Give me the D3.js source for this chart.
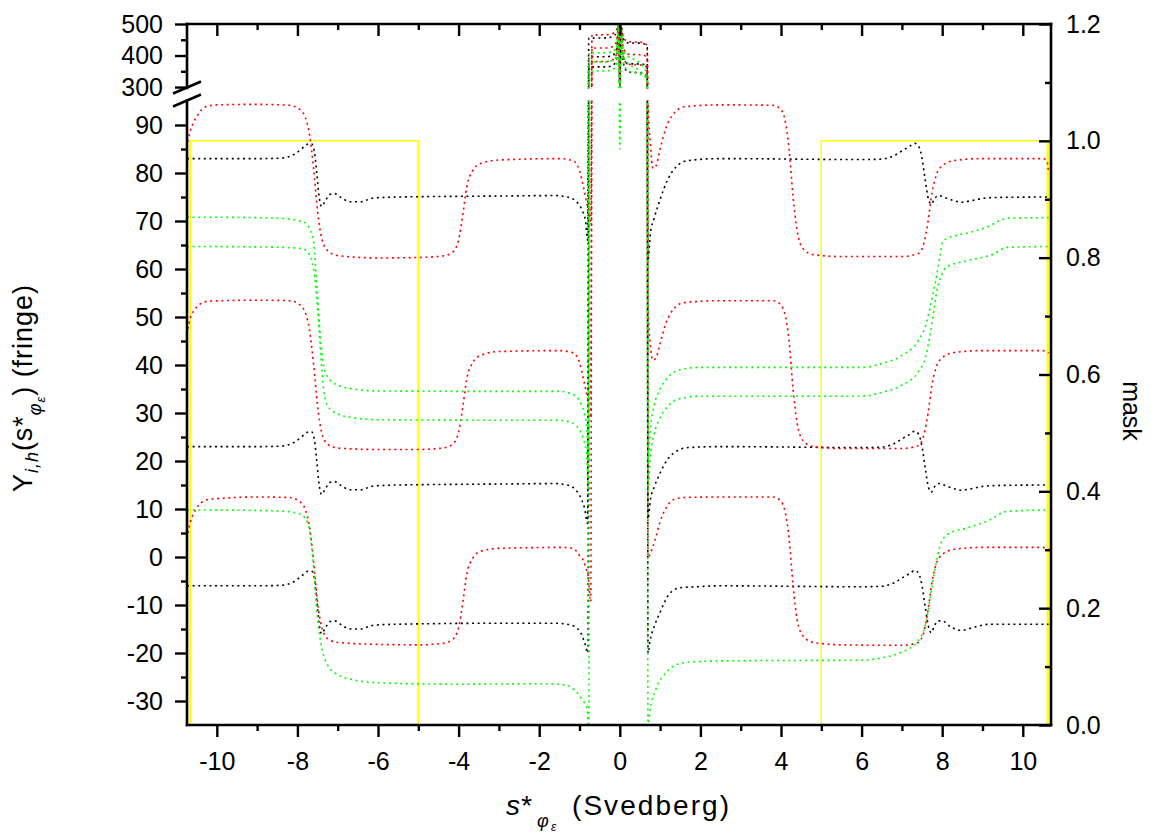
<!DOCTYPE html>
<html>
<head>
<meta charset="utf-8">
<script src="https://cdn.jsdelivr.net/npm/d3@7"></script>
<style>
  body { margin: 0; background: #fff; }
  svg { display: block; font-family: Arial, "Liberation Sans", sans-serif; }
</style>
</head>
<body>
<script>
// ---- data: [s*, Y] pairs ----
let red1 = [[-10.72, 86.5], [-10.65, 89], [-10.58, 90.5], [-10.48, 92], [-10.3, 93.7], [-10, 94.2], [-9, 94.3], [-8.2, 94.1], [-7.95, 93.3], [-7.8, 91.5], [-7.7, 88], [-7.6, 81], [-7.5, 72], [-7.4, 66.5], [-7.25, 63.8], [-7.0, 62.8], [-6, 62.3], [-5, 62.4], [-4.4, 62.7], [-4.15, 63.5], [-4.0, 66], [-3.9, 71], [-3.8, 77], [-3.65, 80.5], [-3.45, 82], [-3.0, 82.7], [-1.5, 83], [-1.15, 82.5], [-1.0, 80.5], [-0.9, 77], [-0.8, 73], [-0.72, 70], [-0.69, 465], [-0.35, 466], [-0.18, 470], [-0.08, 482], [-0.03, 500], [0, 320], [0.03, 498], [0.08, 460], [0.2, 444], [0.55, 442], [0.64, 437], [0.68, 428], [0.7, 96], [0.76, 86], [0.82, 81], [0.9, 81.5], [1.0, 85], [1.15, 89.5], [1.35, 92.5], [1.6, 93.8], [2.5, 94.2], [3.8, 94.1], [4.0, 93.2], [4.1, 91], [4.2, 85], [4.3, 75], [4.4, 68], [4.55, 64.2], [4.8, 63], [5.5, 62.6], [7.0, 62.6], [7.4, 63.2], [7.55, 65.5], [7.65, 70], [7.75, 76], [7.85, 79.5], [8.0, 81.5], [8.3, 82.6], [9.0, 83], [10.5, 83], [10.6, 82.5], [10.64, 80]];
let red2 = [[-10.72, 47.5], [-10.65, 50], [-10.55, 51.5], [-10.45, 52.5], [-10.2, 53.3], [-9, 53.5], [-8.2, 53.4], [-7.95, 52.6], [-7.8, 50.8], [-7.7, 47.3], [-7.6, 40.3], [-7.5, 31.5], [-7.4, 26], [-7.25, 23.5], [-7.0, 22.7], [-6, 22.4], [-5, 22.4], [-4.4, 22.7], [-4.15, 23.5], [-4.0, 26], [-3.9, 31], [-3.8, 37], [-3.65, 40.5], [-3.45, 42], [-3.0, 42.8], [-1.5, 43], [-1.15, 42.5], [-1.0, 40.5], [-0.9, 37], [-0.8, 33], [-0.72, 29], [-0.69, 424], [-0.35, 424], [-0.18, 428], [-0.08, 445], [-0.03, 495], [0, 310], [0.03, 490], [0.08, 430], [0.2, 404], [0.55, 402], [0.64, 398], [0.68, 390], [0.7, 52], [0.76, 44], [0.82, 41], [0.9, 41.5], [1.0, 44.5], [1.15, 48.8], [1.35, 51.8], [1.6, 53], [2.5, 53.4], [3.8, 53.4], [4.0, 52.5], [4.1, 50.5], [4.2, 45], [4.3, 35], [4.4, 28], [4.55, 24.2], [4.8, 23], [5.5, 22.6], [7.0, 22.6], [7.4, 23.2], [7.55, 25.5], [7.65, 30], [7.75, 36], [7.85, 39.5], [8.0, 41.5], [8.3, 42.6], [9.0, 43], [10.5, 43], [10.64, 42.5]];
let red3 = [[-10.72, 5], [-10.65, 7.5], [-10.55, 9.5], [-10.45, 10.8], [-10.2, 12], [-9, 12.5], [-8.2, 12.4], [-7.95, 11.6], [-7.8, 9.8], [-7.7, 6.3], [-7.6, -0.7], [-7.5, -9.5], [-7.4, -14.5], [-7.25, -17], [-7.0, -17.8], [-6, -18.2], [-5, -18.3], [-4.4, -18], [-4.15, -17.2], [-4.0, -14.7], [-3.9, -9.7], [-3.8, -3.7], [-3.65, -0.3], [-3.45, 1.2], [-3.0, 1.8], [-1.5, 2], [-1.16, 1.8], [-0.99, 0.2], [-0.89, -1], [-0.84, -2.4], [-0.79, -3.7], [-0.72, -9.3], [-0.69, 381], [-0.35, 381], [-0.18, 386], [-0.08, 405], [-0.03, 490], [0, 305], [0.03, 480], [0.08, 400], [0.2, 372], [0.55, 370], [0.64, 366], [0.68, 358], [0.7, 0], [0.81, 1.9], [0.91, 4.6], [0.99, 7.1], [1.12, 9.8], [1.32, 11.9], [1.6, 12.4], [2.5, 12.5], [3.8, 12.5], [4.0, 11.6], [4.1, 9.5], [4.2, 4], [4.3, -6], [4.4, -13], [4.55, -16.5], [4.8, -17.8], [5.5, -18.3], [7.0, -18.4], [7.4, -17.8], [7.55, -15.5], [7.65, -11], [7.75, -5], [7.85, -1.5], [8.0, 0.5], [8.3, 1.6], [9.0, 2], [10.5, 2], [10.64, 1.6]];

let black1 = [[-10.74, 83], [-9, 83], [-8.4, 83.1], [-8.1, 83.8], [-7.9, 85], [-7.75, 86], [-7.65, 86.1], [-7.58, 84.5], [-7.52, 80], [-7.46, 75], [-7.4, 73], [-7.32, 74], [-7.2, 75.5], [-7.08, 75.7], [-6.9, 74.8], [-6.7, 74], [-6.45, 74], [-6.1, 74.8], [-5.5, 75], [-3, 75.2], [-1.6, 75.3], [-1.3, 75], [-1.1, 74.2], [-0.95, 72.5], [-0.85, 70], [-0.8, 66], [-0.77, 455], [-0.35, 456], [-0.18, 460], [-0.08, 475], [-0.03, 500], [0, 315], [0.03, 495], [0.08, 455], [0.2, 440], [0.55, 439], [0.64, 434], [0.68, 425], [0.7, 62], [0.76, 67.5], [0.85, 70.5], [1.0, 74.5], [1.2, 78.8], [1.4, 81.3], [1.7, 82.6], [2.5, 83], [6.0, 82.8], [6.5, 82.9], [6.8, 83.6], [7.0, 84.6], [7.2, 85.6], [7.32, 86.2], [7.42, 85.5], [7.5, 83], [7.58, 78.5], [7.66, 74.5], [7.73, 73.5], [7.8, 74.5], [7.9, 75.3], [8.1, 74.8], [8.3, 74.2], [8.48, 73.9], [8.7, 74.2], [9.0, 74.7], [9.35, 74.9], [10.64, 75]];
let black2 = [[-10.74, 23], [-9, 23], [-8.4, 23.1], [-8.1, 23.8], [-7.9, 25], [-7.75, 26], [-7.65, 26.1], [-7.58, 24.5], [-7.52, 20], [-7.46, 15], [-7.4, 13], [-7.32, 14], [-7.2, 15.5], [-7.08, 15.7], [-6.9, 14.8], [-6.7, 14], [-6.45, 14], [-6.1, 14.8], [-5.5, 15], [-3, 15.2], [-1.6, 15.3], [-1.3, 15], [-1.1, 14], [-0.95, 12], [-0.87, 10], [-0.8, 7], [-0.77, 396], [-0.35, 396], [-0.18, 400], [-0.08, 420], [-0.03, 495], [0, 305], [0.03, 490], [0.08, 400], [0.2, 374], [0.55, 373], [0.64, 368], [0.68, 360], [0.7, 8], [0.76, 12], [0.85, 14.5], [1.0, 17.5], [1.2, 20.5], [1.4, 22], [1.7, 22.8], [2.5, 23], [6.0, 22.8], [6.5, 22.9], [6.8, 23.6], [7.0, 24.6], [7.2, 25.6], [7.32, 26.2], [7.42, 25.5], [7.5, 23], [7.58, 18.5], [7.66, 14.5], [7.73, 13.5], [7.8, 14.5], [7.9, 15.3], [8.1, 14.8], [8.3, 14.2], [8.48, 13.9], [8.7, 14.2], [9.0, 14.7], [9.35, 14.9], [10.64, 15]];
let black3 = [[-10.74, -6], [-9, -6], [-8.4, -5.9], [-8.1, -5.2], [-7.9, -4], [-7.75, -3], [-7.65, -2.9], [-7.58, -4.5], [-7.52, -9], [-7.46, -14], [-7.4, -16], [-7.32, -15], [-7.2, -13.5], [-7.08, -13.3], [-6.9, -14.2], [-6.7, -15], [-6.45, -15], [-6.1, -14.2], [-5.5, -14], [-3, -13.8], [-1.6, -13.8], [-1.24, -14.1], [-0.99, -15.5], [-0.87, -17.9], [-0.79, -20], [-0.76, 364], [-0.35, 364], [-0.18, 368], [-0.08, 390], [-0.03, 485], [0, 300], [0.03, 480], [0.08, 380], [0.2, 348], [0.55, 345], [0.64, 340], [0.68, 332], [0.7, -20], [0.74, -17.9], [0.87, -14.1], [0.99, -11.7], [1.22, -7.8], [1.49, -6.4], [1.9, -6.2], [2.5, -6], [6.0, -6.2], [6.5, -6.1], [6.8, -5.4], [7.0, -4.4], [7.2, -3.4], [7.32, -2.8], [7.42, -3.5], [7.5, -6], [7.58, -10.5], [7.66, -14.5], [7.73, -15.8], [7.8, -14.5], [7.9, -13.3], [8.0, -13.3], [8.2, -14.5], [8.48, -15.3], [8.8, -14.6], [9.2, -14], [10.64, -14]];

let green1 = [[-10.74, 70.8], [-9, 70.7], [-8.19, 70.4], [-7.95, 70], [-7.77, 69.5], [-7.68, 68], [-7.61, 66.5], [-7.53, 58.3], [-7.45, 48], [-7.37, 41], [-7.25, 37.5], [-7.0, 35.8], [-6.6, 35], [-6, 34.6], [-3, 34.5], [-1.5, 34.5], [-1.2, 34], [-1.0, 32.5], [-0.9, 30.5], [-0.82, 27], [-0.78, 20], [-0.76, 409], [-0.35, 409], [-0.18, 412], [-0.08, 430], [-0.03, 500], [0, 85], [0.03, 495], [0.08, 420], [0.2, 398], [0.4, 385], [0.55, 370], [0.64, 350], [0.68, 330], [0.7, 20], [0.76, 27], [0.85, 31.5], [1.0, 35], [1.2, 37.5], [1.5, 39], [2, 39.5], [6, 39.5], [6.5, 40.3], [7.0, 42], [7.4, 45], [7.6, 48.5], [7.75, 54], [7.86, 58.5], [7.95, 63], [8.02, 65.8], [8.35, 67], [8.68, 67.6], [9.18, 69], [9.43, 70.1], [9.68, 70.6], [10.64, 70.7]];
let green2 = [[-10.74, 64.7], [-9, 64.6], [-8.36, 64.5], [-7.86, 64.2], [-7.69, 62.8], [-7.57, 58.3], [-7.5, 52], [-7.42, 42], [-7.35, 35], [-7.25, 31.5], [-7.0, 29.8], [-6.6, 29], [-6, 28.6], [-3, 28.5], [-1.5, 28.5], [-1.2, 28], [-1.0, 26.5], [-0.9, 24.5], [-0.82, 21], [-0.78, 14], [-0.76, 380], [-0.35, 380], [-0.18, 384], [-0.08, 400], [-0.03, 490], [0, 300], [0.03, 485], [0.08, 400], [0.2, 375], [0.4, 360], [0.55, 345], [0.64, 330], [0.68, 315], [0.7, 14], [0.76, 21], [0.85, 25.5], [1.0, 29], [1.2, 31.5], [1.5, 33], [2, 33.5], [6, 33.5], [6.5, 34.3], [7.0, 35.8], [7.4, 38.5], [7.6, 42], [7.75, 49], [7.88, 56], [8.0, 59], [8.1, 60.4], [8.6, 61.7], [9.27, 63.1], [9.6, 64.5], [10.64, 64.7]];
let green3 = [[-10.74, 9.8], [-9, 9.7], [-8.3, 9.5], [-7.95, 9], [-7.8, 8], [-7.7, 5.5], [-7.62, 0], [-7.55, -8], [-7.47, -15], [-7.38, -19.5], [-7.25, -22.5], [-7.0, -24.5], [-6.6, -25.6], [-6, -26.2], [-4, -26.5], [-1.9, -26.4], [-1.41, -26.6], [-1.24, -27], [-0.99, -29], [-0.91, -30], [-0.83, -31.1], [-0.79, -33.9], [-0.77, -40], [-0.75, 351], [-0.35, 351], [-0.18, 355], [-0.08, 375], [-0.03, 480], [0, 300], [0.03, 470], [0.08, 380], [0.2, 352], [0.4, 345], [0.55, 338], [0.64, 332], [0.68, 325], [0.7, -40], [0.74, -32.5], [0.89, -27.7], [1.16, -24], [1.32, -22.8], [1.61, -22], [1.9, -21.8], [3, -21.6], [6, -21.5], [6.5, -21], [7.0, -19.8], [7.4, -17.5], [7.6, -13.5], [7.75, -6], [7.88, 0], [8.0, 3.5], [8.2, 5], [8.6, 6], [9.2, 7.8], [9.6, 9.5], [10.64, 9.8]];

// mask (right axis)
let mask = [[-10.74, 0], [-10.67, 0], [-10.67, 1], [-10.65, 1], [-10.65, 0], [-10.65, 1], [-5, 1], [-5, 0], [5, 0], [5, 1], [10.61, 1], [10.61, 0], [10.63, 0], [10.63, 1], [10.63, 0], [10.7, 0]];

// ticks
let xMajor = [-10, -8, -6, -4, -2, 0, 2, 4, 6, 8, 10];
let xMinor = [-9, -7, -5, -3, -1, 1, 3, 5, 7, 9];
let yLowMajor = [-30, -20, -10, 0, 10, 20, 30, 40, 50, 60, 70, 80, 90];
let yLowMinor = [-25, -15, -5, 5, 15, 25, 35, 45, 55, 65, 75, 85];
let yHighMajor = [300, 400, 500];
let yHighMinor = [350, 450];
let maskMajor = [0, 0.2, 0.4, 0.6, 0.8, 1.0, 1.2];
let maskMinor = [0.1, 0.3, 0.5, 0.7, 0.9, 1.1];

// ---- set up ----
let width = 1151, height = 834;
let pLeft = 187, pRight = 1051, pTop = 24, pBottom = 725;
let fontSize = 25;

let svg = d3.select('body').append('svg')
  .attr('width', width)
  .attr('height', height);

let x = d3.scaleLinear().domain([-10.74, 10.7]).range([pLeft, pRight]);
// broken axis: lower part -35..95, upper part 290..500
let y = d3.scaleLinear().domain([-35, 95, 290, 500]).range([pBottom, 101, 90.2, pTop]);
let yLow = d3.scaleLinear().domain([-35, 95]).range([pBottom, 101]);
let yHigh = d3.scaleLinear().domain([290, 500]).range([90.2, pTop]);
let yMask = d3.scaleLinear().domain([0, 1.2]).range([pBottom, pTop]);

let defs = svg.append('defs');
let clip = defs.append('clipPath').attr('id', 'plotClip');
clip.append('rect').attr('x', pLeft).attr('y', pTop - 2).attr('width', pRight - pLeft).attr('height', 88.5 - pTop + 2);
clip.append('rect').attr('x', pLeft).attr('y', 100.5).attr('width', pRight - pLeft).attr('height', pBottom - 100.5);

// mask line
svg.append('path')
  .datum(mask)
  .attr('fill', 'none')
  .attr('stroke', '#ffff00')
  .attr('stroke-width', 1.5)
  .attr('d', d3.line().x(d => x(d[0])).y(d => yMask(d[1])));

// dotted curves
let line = d3.line()
  .x(d => x(d[0]))
  .y(d => y(d[1]))
  .curve(d3.curveMonotoneX);

let curves = [
  [black1, '#000000'], [black2, '#000000'], [black3, '#000000'],
  [red1, '#ff0000'], [red2, '#ff0000'], [red3, '#ff0000'],
  [green1, '#00ff00'], [green2, '#00ff00'], [green3, '#00ff00']
];

let plot = svg.append('g').attr('clip-path', 'url(#plotClip)');
curves.forEach(c => {
  plot.append('path')
    .datum(c[0])
    .attr('fill', 'none')
    .attr('stroke', c[1])
    .attr('stroke-width', 1.6)
    .attr('stroke-dasharray', '2,3.6')
    .attr('d', line);
});

// ---- axes ----
function styleAxis(g) {
  g.select('.domain').remove();
  g.selectAll('line').attr('stroke', '#000').attr('stroke-width', 2.4);
  g.selectAll('text')
    .attr('fill', '#000')
    .style('font-size', fontSize + 'px')
    .style('font-family', 'Arial, "Liberation Sans", sans-serif');
}
let fmt = d => String(d);

svg.append('g').attr('transform', `translate(0,${pBottom})`)
  .call(d3.axisBottom(x).tickValues(xMajor).tickSize(12).tickPadding(15).tickFormat(fmt))
  .call(styleAxis);
svg.append('g').attr('transform', `translate(0,${pBottom})`)
  .call(d3.axisBottom(x).tickValues(xMinor).tickSize(6).tickFormat(''))
  .call(styleAxis);
svg.append('g').attr('transform', `translate(0,${pTop})`)
  .call(d3.axisTop(x).tickValues(xMajor).tickSize(-12).tickFormat(''))
  .call(styleAxis);
svg.append('g').attr('transform', `translate(0,${pTop})`)
  .call(d3.axisTop(x).tickValues(xMinor).tickSize(-6).tickFormat(''))
  .call(styleAxis);

svg.append('g').attr('transform', `translate(${pLeft},0)`)
  .call(d3.axisLeft(yLow).tickValues(yLowMajor).tickSize(12).tickPadding(12).tickFormat(fmt))
  .call(styleAxis);
svg.append('g').attr('transform', `translate(${pLeft},0)`)
  .call(d3.axisLeft(yLow).tickValues(yLowMinor).tickSize(6).tickFormat(''))
  .call(styleAxis);
svg.append('g').attr('transform', `translate(${pLeft},0)`)
  .call(d3.axisLeft(yHigh).tickValues(yHighMajor).tickSize(12).tickPadding(12).tickFormat(fmt))
  .call(styleAxis);
svg.append('g').attr('transform', `translate(${pLeft},0)`)
  .call(d3.axisLeft(yHigh).tickValues(yHighMinor).tickSize(6).tickFormat(''))
  .call(styleAxis);

svg.append('g').attr('transform', `translate(${pRight},0)`)
  .call(d3.axisRight(yMask).tickValues(maskMajor).tickSize(-12).tickPadding(15).tickFormat(d3.format('.1f')))
  .call(styleAxis);
svg.append('g').attr('transform', `translate(${pRight},0)`)
  .call(d3.axisRight(yMask).tickValues(maskMinor).tickSize(-6).tickFormat(''))
  .call(styleAxis);

// frame lines
let frame = svg.append('g').attr('stroke', '#000').attr('stroke-width', 2.6).attr('stroke-linecap', 'square');
frame.append('line').attr('x1', pLeft).attr('x2', pRight).attr('y1', pBottom).attr('y2', pBottom);
frame.append('line').attr('x1', pLeft).attr('x2', pRight).attr('y1', pTop).attr('y2', pTop);
frame.append('line').attr('x1', pRight).attr('x2', pRight).attr('y1', pTop).attr('y2', pBottom);
frame.append('line').attr('x1', pLeft).attr('x2', pLeft).attr('y1', 101).attr('y2', pBottom);
frame.append('line').attr('x1', pLeft).attr('x2', pLeft).attr('y1', pTop).attr('y2', 88);
// break marks
frame.append('line').attr('x1', 173).attr('y1', 93.5).attr('x2', 201).attr('y2', 81.5).attr('stroke-linecap', 'butt');
frame.append('line').attr('x1', 173).attr('y1', 106.5).attr('x2', 201).attr('y2', 94.5).attr('stroke-linecap', 'butt');

// ---- titles ----
let xt = svg.append('g').style('font-size', '28px').attr('fill', '#000');
xt.append('text').attr('x', 506).attr('y', 815).style('font-style', 'italic').text('s*');
xt.append('text').attr('x', 537).attr('y', 827).style('font-size', '18px').style('font-style', 'italic').text('φ');
xt.append('text').attr('x', 551).attr('y', 831).style('font-size', '12px').style('font-style', 'italic').text('ε');
xt.append('text').attr('x', 572).attr('y', 815).attr('textLength', 157).attr('lengthAdjust', 'spacing').text('(Svedberg)');

let yt = svg.append('text')
  .attr('transform', 'translate(32,492) rotate(-90)')
  .style('font-size', '27px')
  .attr('fill', '#000')
  .attr('textLength', 207)
  .attr('lengthAdjust', 'spacing');
yt.append('tspan').text('Y');
yt.append('tspan').attr('dy', 6).style('font-size', '18px').style('font-style', 'italic').text('i,h');
yt.append('tspan').attr('dy', -6).text('(s*');
yt.append('tspan').attr('dy', 9).style('font-size', '18px').style('font-style', 'italic').text('φ');
yt.append('tspan').attr('dy', 4).style('font-size', '13px').style('font-style', 'italic').text('ε');
yt.append('tspan').attr('dy', -13).text(') (fringe)');

svg.append('text')
  .attr('transform', 'translate(1123,411) rotate(90)')
  .attr('text-anchor', 'middle')
  .style('font-size', '25px')
  .attr('fill', '#000')
  .text('mask');
</script>
</body>
</html>
